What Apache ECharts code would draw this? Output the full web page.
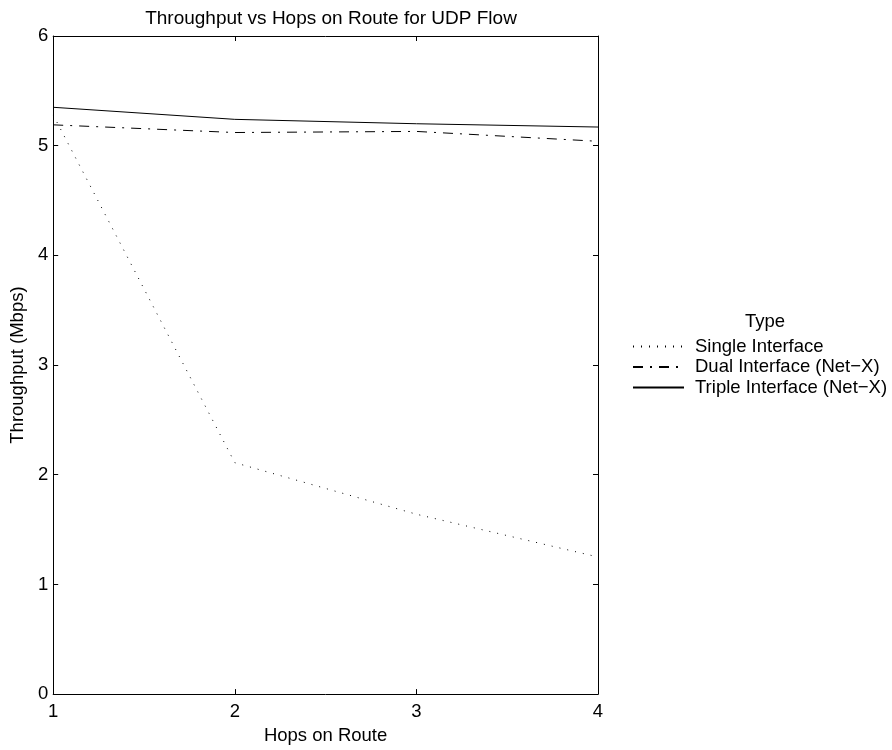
<!DOCTYPE html>
<html><head><meta charset="utf-8">
<script src="https://cdn.jsdelivr.net/npm/echarts@6/dist/echarts.min.js"></script>
<style>html,body{margin:0;padding:0;background:#fff}#c{width:892px;height:750px}</style>
</head><body><div id="c"></div>
<script>
const hops = [1, 2, 3, 4];
const singleIf = [5.28, 2.11, 1.64, 1.25];
const dualIf = [5.19, 5.12, 5.13, 5.04];
const tripleIf = [5.35, 5.24, 5.20, 5.17];
const seriesNames = ['Single Interface', 'Dual Interface (Net\u2212X)', 'Triple Interface (Net\u2212X)'];
const yTicks = [0, 1, 2, 3, 4, 5, 6];

const font = 'Liberation Sans, Arial, sans-serif';
const fs = 18.5;
const chart = echarts.init(document.getElementById('c'), null, {renderer: 'canvas'});
const pair = arr => hops.map((h, i) => [h, arr[i]]);
const axisCommon = {
  axisLine: {show: true, onZero: false, lineStyle: {color: '#000', width: 1}},
  axisTick: {show: true, inside: true, length: 5, lineStyle: {color: '#000'}},
  splitLine: {show: false}
};
chart.setOption({
  animation: false,
  backgroundColor: '#fff',
  title: [
    {text: 'Throughput vs Hops on Route for UDP Flow', left: 326, top: 4, textAlign: 'center',
     textStyle: {fontFamily: font, fontSize: 19, fontWeight: 'normal', color: '#000'}},
    {text: 'Type', left: 760, top: 307, textAlign: 'center',
     textStyle: {fontFamily: font, fontSize: fs, fontWeight: 'normal', color: '#000'}}
  ],
  legend: {
    orient: 'vertical', left: 632, top: 337, itemWidth: 51, itemHeight: 18, itemGap: 1.5, padding: 0,
    itemStyle: {opacity: 0},
    textStyle: {fontFamily: font, fontSize: fs, color: '#000', padding: [0, 0, 0, 6]},
    data: seriesNames
  },
  grid: {left: 53, top: 36, right: 294, bottom: 52, containLabel: false},
  xAxis: [
    Object.assign({type: 'value', min: 1, max: 4, interval: 1, position: 'bottom',
      name: 'Hops on Route', nameLocation: 'middle', nameGap: 30,
      nameTextStyle: {fontFamily: font, fontSize: fs, color: '#000'},
      axisLabel: {fontFamily: font, fontSize: fs, color: '#000', margin: 8}}, axisCommon),
    Object.assign({type: 'value', min: 1, max: 4, interval: 1, position: 'top',
      axisLabel: {show: false}}, axisCommon)
  ],
  yAxis: [
    Object.assign({type: 'value', min: yTicks[0], max: yTicks[yTicks.length - 1], interval: 1, position: 'left',
      name: 'Throughput (Mbps)', nameLocation: 'middle', nameGap: 26, nameRotate: 90,
      nameTextStyle: {fontFamily: font, fontSize: fs, color: '#000'},
      axisLabel: {fontFamily: font, fontSize: fs, color: '#000', margin: 5}}, axisCommon),
    Object.assign({type: 'value', min: yTicks[0], max: yTicks[yTicks.length - 1], interval: 1, position: 'right',
      axisLabel: {show: false}}, axisCommon)
  ],
  series: [
    {name: seriesNames[0], type: 'line', data: pair(singleIf), showSymbol: false, symbol: 'none',
     lineStyle: {color: '#000', width: 1, type: [1, 7]}, itemStyle: {color: '#000'}},
    {name: seriesNames[1], type: 'line', data: pair(dualIf), showSymbol: false, symbol: 'none',
     lineStyle: {color: '#000', width: 1, type: [10, 7, 2, 7]}, itemStyle: {color: '#000'}},
    {name: seriesNames[2], type: 'line', data: pair(tripleIf), showSymbol: false, symbol: 'none',
     lineStyle: {color: '#000', width: 1, type: 'solid'}, itemStyle: {color: '#000'}}
  ]
});
</script></body></html>
